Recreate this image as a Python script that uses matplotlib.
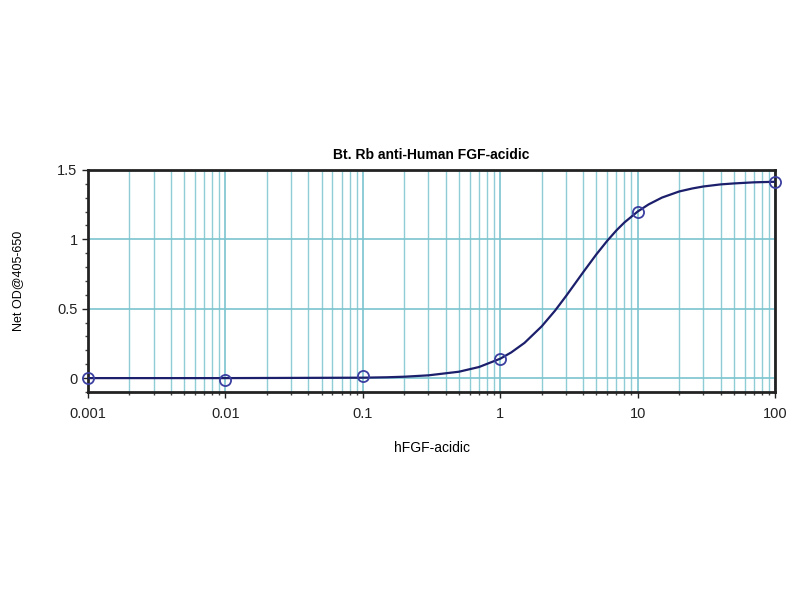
import matplotlib
matplotlib.use("Agg")
import matplotlib.pyplot as plt
from matplotlib.ticker import LogLocator, FixedLocator, MultipleLocator

plt.rcParams['font.family'] = ['Liberation Sans', 'DejaVu Sans']

# --- DATA ---
conc = [0.001, 0.01, 0.1, 1, 10, 100]
od = [0.0, -0.015, 0.012, 0.14, 1.2, 1.41]

# fitted curve as drawn in the reference
fit_x = [0.001, 0.01, 0.1, 0.15, 0.2, 0.3, 0.5, 0.7, 1, 1.2, 1.5, 2, 2.5, 3,
         3.5, 4, 5, 6, 7, 8, 10, 12, 15, 20, 25, 30, 40, 50, 70, 100]
fit_y = [0.0, 0.0, 0.003, 0.006, 0.010, 0.020, 0.046, 0.080, 0.140, 0.185,
         0.254, 0.373, 0.486, 0.590, 0.682, 0.762, 0.892, 0.990, 1.065, 1.122,
         1.201, 1.252, 1.301, 1.345, 1.367, 1.381, 1.396, 1.403, 1.411, 1.415]

x_ticks = [0.001, 0.01, 0.1, 1, 10, 100]
x_tick_labels = ['0.001', '0.01', '0.1', '1', '10', '100']
y_ticks = [0, 0.5, 1, 1.5]
y_tick_labels = ['0', '0.5', '1', '1.5']

fig = plt.figure(figsize=(8, 6), dpi=100)
ax = fig.add_axes([0.11, 0.3467, 0.859, 0.37])

ax.set_xscale('log')
ax.set_xlim(0.001, 100)
ax.set_ylim(-0.1, 1.5)

# grid
grid_col = '#7cc4cf'
ax.xaxis.set_major_locator(FixedLocator(x_ticks))
ax.xaxis.set_minor_locator(LogLocator(base=10, subs=range(2, 10)))
ax.yaxis.set_major_locator(FixedLocator(y_ticks))
ax.yaxis.set_minor_locator(MultipleLocator(0.1))
ax.grid(True, which='major', axis='both', color=grid_col, lw=1.2)
ax.grid(True, which='minor', axis='x', color=grid_col, lw=1.0, alpha=0.85)
ax.set_axisbelow(True)

ax.set_xticklabels(x_tick_labels)
ax.set_yticklabels(y_tick_labels)
ax.tick_params(which='major', direction='out', length=4, width=1,
               labelsize=10.5, colors='#222222')
ax.tick_params(axis='x', which='major', pad=7)
ax.tick_params(which='minor', direction='out', length=2, width=1, color='#444444')
ax.xaxis.set_minor_formatter(plt.NullFormatter())

for sp in ax.spines.values():
    sp.set_linewidth(2)
    sp.set_color('#222222')

ax.plot(fit_x, fit_y, color='#1c1f6b', lw=1.6, zorder=3)
ax.plot(conc, od, 'o', ms=8, mfc='none', mec='#3b3fa0', mew=1.3, zorder=4,
        clip_on=False)

ax.set_title('Bt. Rb anti-Human FGF-acidic', fontsize=10, fontweight='bold',
             pad=8)
ax.set_xlabel('hFGF-acidic', fontsize=10, labelpad=14)
ax.set_ylabel('Net OD@405-650', fontsize=9, labelpad=24)

fig.savefig('out.png', dpi=100)
